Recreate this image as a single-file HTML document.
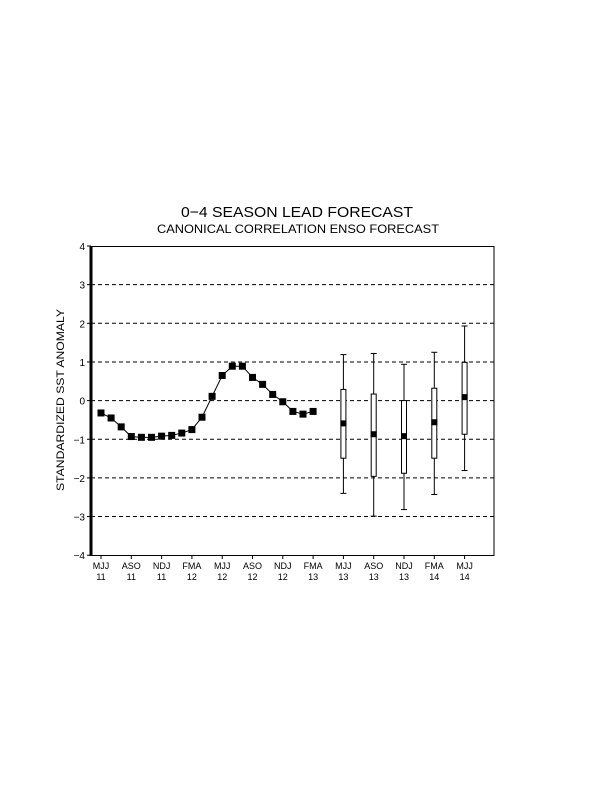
<!DOCTYPE html>
<html><head><meta charset="utf-8"><style>
html,body{margin:0;padding:0;background:#fff;}
svg text{font-family:"Liberation Sans",sans-serif;fill:#000;}
</style></head><body>
<svg id="chart" width="600" height="800" viewBox="0 0 600 800" xmlns="http://www.w3.org/2000/svg">
<rect width="600" height="800" fill="#fff"/>
<text x="297" y="217" font-size="15" text-anchor="middle" textLength="232" lengthAdjust="spacingAndGlyphs">0−4 SEASON LEAD FORECAST</text>
<text x="298" y="233" font-size="12" text-anchor="middle" textLength="282" lengthAdjust="spacingAndGlyphs">CANONICAL CORRELATION ENSO FORECAST</text>
<text transform="translate(64,400) rotate(-90)" font-size="11" text-anchor="middle" textLength="182" lengthAdjust="spacingAndGlyphs">STANDARDIZED SST ANOMALY</text>
<g id="grid"></g>
<g id="marks"></g>
<rect x="91" y="246.5" width="403" height="309" fill="none" stroke="#000" stroke-width="1"/>
<line x1="91" y1="246" x2="91" y2="556" stroke="#000" stroke-width="3"/>
</svg>
<script>
const yTicks = [-4,-3,-2,-1,0,1,2,3,4];
const seasonLabels = ["MJJ","ASO","NDJ","FMA","MJJ","ASO","NDJ","FMA","MJJ","ASO","NDJ","FMA","MJJ"];
const yearLabels = ["11","11","11","12","12","12","12","13","13","13","13","14","14"];
const observed = [-0.32,-0.45,-0.68,-0.93,-0.95,-0.95,-0.92,-0.90,-0.84,-0.75,-0.43,0.11,0.65,0.89,0.89,0.60,0.42,0.16,-0.03,-0.28,-0.35,-0.28];
const fcMonth = [24,27,30,33,36];
const fcMean = [-0.59,-0.87,-0.92,-0.56,0.09];
const fcBoxTop = [0.29,0.17,0.0,0.32,0.99];
const fcBoxBot = [-1.49,-1.96,-1.88,-1.49,-0.87];
const fcWhiskTop = [1.19,1.22,0.94,1.25,1.93];
const fcWhiskBot = [-2.40,-2.99,-2.82,-2.43,-1.81];

const NS="http://www.w3.org/2000/svg";
const x = m => 101 + m*10.1;
const y = v => 400.6 - v*38.65;
function mk(tag, attrs, parent){const e=document.createElementNS(NS,tag);for(const k in attrs)e.setAttribute(k,attrs[k]);parent.appendChild(e);return e;}
const grid=document.getElementById('grid'), marks=document.getElementById('marks');

yTicks.forEach(v=>{
  if(v>-4 && v<4){
    const l=mk('line',{x1:91,x2:494,y1:y(v),y2:y(v),stroke:'#000','stroke-width':1,'stroke-dasharray':'4,3'},grid);
    
    
  }
  const t=mk('line',{x1:87,x2:91,y1:y(v),y2:y(v),stroke:'#000'},grid);
  
  
  const tx=mk('text',{x:85,y:y(v)+4,'font-size':10,'text-anchor':'end'},grid);
  tx.textContent=String(v).replace('-','−');
  
  
});
seasonLabels.forEach((s,i)=>{
  const xm=x(i*3);
  const t=mk('line',{x1:xm,x2:xm,y1:555,y2:559,stroke:'#000'},grid);
  
  
  const a=mk('text',{x:xm,y:569,'font-size':9,'text-anchor':'middle'},grid);
  a.textContent=s;
  
  
  const b=mk('text',{x:xm,y:580,'font-size':9,'text-anchor':'middle'},grid);
  b.textContent=yearLabels[i];
  
  
});
const pts=observed.map((v,i)=>x(i)+','+y(v)).join(' ');
const pl=mk('polyline',{points:pts,fill:'none',stroke:'#000','stroke-width':1},marks);


observed.forEach((v,i)=>{
  const r=mk('rect',{x:x(i)-3.5,y:y(v)-3.5,width:7,height:7,fill:'#000'},marks);
  
  
});
fcMonth.forEach((m,i)=>{
  const xm=x(m);
  const w=mk('line',{x1:xm,x2:xm,y1:y(fcWhiskTop[i]),y2:y(fcWhiskBot[i]),stroke:'#000','stroke-width':1},marks);
  
  
  [fcWhiskTop[i],fcWhiskBot[i]].forEach(v=>{
    const c=mk('line',{x1:xm-3,x2:xm+3,y1:y(v),y2:y(v),stroke:'#000'},marks);
    
    
  });
  const b=mk('rect',{x:xm-2.5,y:y(fcBoxTop[i]),width:5,height:y(fcBoxBot[i])-y(fcBoxTop[i]),fill:'#fff',stroke:'#000','stroke-width':1},marks);
  
  
  const mm=mk('rect',{x:xm-3,y:y(fcMean[i])-3,width:6,height:6,fill:'#000'},marks);
  
  
});
</script>
</body></html>
